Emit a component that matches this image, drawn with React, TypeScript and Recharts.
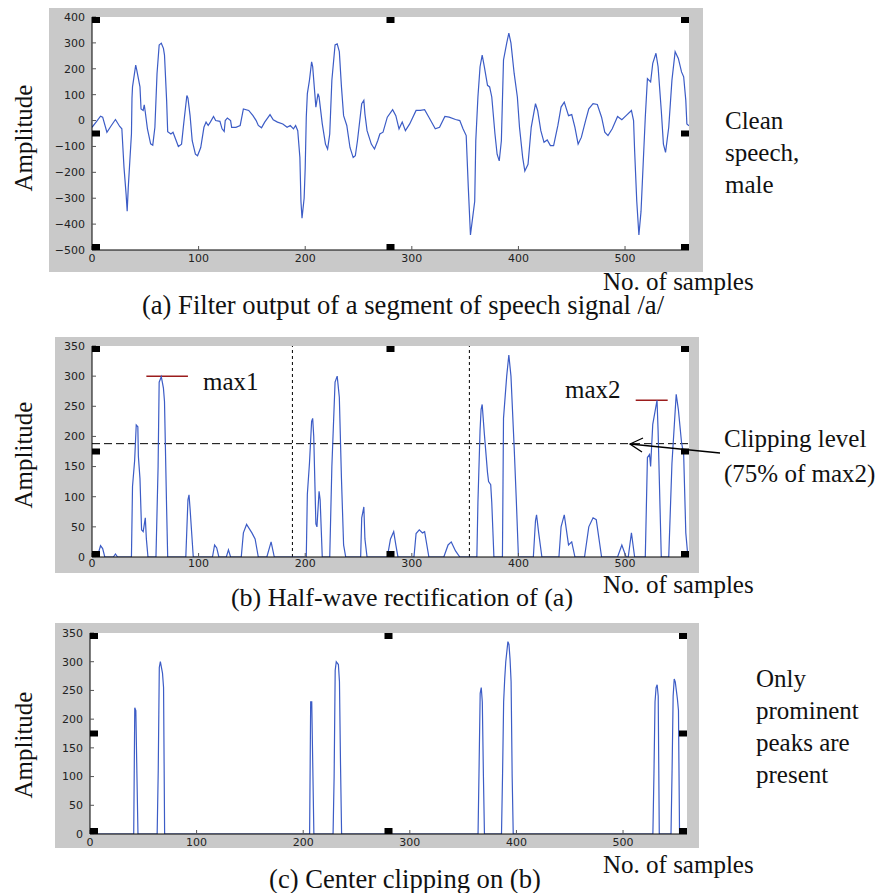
import React from 'react';
import { LineChart, Line, XAxis, YAxis, ReferenceLine, ReferenceDot, ReferenceArea } from 'recharts';

// ---------- data ----------
const xTicks = [0, 100, 200, 300, 400, 500];
const xDomain: [number, number] = [0, 560];
const yTicksA = [-500, -400, -300, -200, -100, 0, 100, 200, 300, 400];
const yTicksBC = [0, 50, 100, 150, 200, 250, 300, 350];

// (a) filter output: [sample, amplitude]
const filterOutput: [number, number][] = [
  [0,-26],[4,-5],[8,17],[10,13],[14,-45],[18,-20],[22,4],[26,-23],[28,-32],[30,-180],[32,-285],[33,-350],[34,-260],[35.5,-155],[37,-52],[37.5,85],[38,130],[41,214],[42,195],[45,130],[46,45],[48,39],[49,61],[50,32],[52,-32],[55,-90],[57,-95],[59,-26],[61,182],[63,292],[65,299],[67,279],[68,253],[70,78],[71,-43],[74,-52],[76,-45],[79,-78],[81,-100],[84,-91],[86,-13],[89,97],[90,87],[92,19],[94,-78],[97,-130],[99,-136],[102,-104],[105,-26],[107,-6],[109,-19],[111,-6],[114,16],[116,0],[120,-3],[122,-32],[124,-42],[125,0],[127,10],[130,0],[131,-26],[135,-26],[139,-19],[142,45],[147,39],[151,19],[154,0],[156,-19],[159,-28],[162,-6],[167,23],[170,3],[174,-6],[179,-13],[183,-26],[186,-19],[189,-32],[191,-19],[193,-39],[195,-143],[196,-312],[197,-377],[199,-299],[200,-182],[201,13],[202,104],[204,156],[206,227],[207,208],[209,104],[210,52],[212,104],[213,91],[216,-13],[219,-91],[221,-110],[223,-52],[225,156],[228,292],[230,296],[232,266],[234,130],[236,19],[239,-19],[242,-104],[245,-143],[247,-136],[249,-78],[253,65],[255,78],[256,26],[258,-39],[262,-91],[265,-110],[268,-78],[270,-52],[273,-45],[277,13],[282,42],[285,19],[288,-32],[291,-6],[294,-39],[298,-13],[304,39],[308,39],[312,42],[316,13],[322,-32],[326,-26],[331,16],[335,13],[341,4],[345,0],[348,-32],[351,-58],[353,-260],[355,-442],[357,-377],[359,-312],[360,-78],[362,91],[364,208],[366,253],[368,208],[371,136],[373,130],[375,91],[378,-52],[380,-130],[382,-156],[384,-78],[386,234],[389,299],[391,338],[393,299],[396,182],[399,91],[401,-26],[404,-143],[406,-195],[409,-169],[412,-26],[416,65],[418,39],[421,-39],[424,-84],[427,-75],[430,-97],[433,-97],[437,-19],[440,52],[443,71],[447,19],[450,23],[453,-26],[456,-91],[459,-65],[463,0],[466,45],[470,65],[474,62],[478,13],[481,-45],[484,-58],[488,-32],[493,16],[497,3],[501,19],[506,39],[508,0],[509,-117],[511,-312],[513,-442],[515,-351],[517,-169],[519,13],[521,162],[524,149],[526,221],[529,260],[531,208],[534,39],[536,-91],[538,-123],[541,-26],[544,156],[547,266],[550,240],[553,188],[555,169],[557,78],[558,-13],[560,-20],
];

// (b) half-wave rectified
const halfWave: [number, number][] = [
  [0,0],[5,0],[8,19],[10,14],[12,0],[20,0],[22,5],[24,0],[37,0],[38,117],[40,160],[41.5,219],[43,216],[43.5,167],[45,130],[46.5,45],[48,42],[50,65],[51,30],[52.5,0],[60,0],[62,150],[63,290],[65,299],[67,280],[68,258],[70,80],[71,0],[88,0],[90,95],[91,103],[92,80],[95,0],[113,0],[115,20],[117,15],[119,0],[126,0],[128,12],[130,0],[140,0],[142,40],[145,54],[150,40],[153,30],[156,0],[164,0],[168,25],[171,0],[201,0],[202,104],[204,156],[206,225],[207,230],[208,200],[210,55],[211,50],[213,109],[214,95],[216,0],[223,0],[225,150],[228,290],[230,300],[232,265],[234,130],[236,20],[238,0],[252,0],[253,65],[255,83],[256,30],[258,0],[277,0],[280,30],[283,42],[285,20],[287,0],[302,0],[304,39],[307,45],[310,40],[312,42],[316,0],[330,0],[334,20],[337,25],[341,10],[345,0],[361,0],[362,90],[364,210],[365,245],[366,253],[368,205],[371,140],[372,125],[374,120],[375,90],[377,0],[385,0],[386,230],[389,300],[391,335],[393,300],[396,182],[398,95],[400,0],[414,0],[416,60],[417,70],[419,40],[422,0],[438,0],[440,50],[443,70],[447,20],[450,25],[453,0],[462,0],[466,50],[470,65],[473,62],[478,0],[493,0],[497,20],[501,0],[503,0],[506,40],[509,0],[519,0],[521,165],[523,170],[524,150],[526,220],[530,260],[531,210],[534,0],[541,0],[544,155],[548,270],[550,245],[553,190],[555,170],[557,40],[559,0],[560,0],
];

// (c) center clipped
const centerClipped: [number, number][] = [
  [0,0],[41,0],[42,220],[43,215],[44,105],[45,0],[63,0],[64,110],[65,290],[66,300],[67,290],[68,280],[69,255],[70,0],[206,0],[207,230],[208,230],[209,115],[210,0],[228,0],[229,100],[230,285],[231,300],[233,295],[234,265],[235,120],[236,0],[364,0],[365,120],[366,245],[367,255],[368,230],[369,105],[370,0],[386,0],[387,105],[388,230],[389,270],[390,300],[392,335],[393,330],[394,305],[395,265],[396,100],[397,0],[528,0],[529,105],[530,230],[531,255],[532,260],[533,240],[534,0],[545,0],[546,110],[547,240],[548,270],[549,265],[550,250],[551,235],[552,215],[553,0],[560,0],
];

const clippingLevel = 188;
const max1Level = 300;
const max1Span = [51, 90];
const max2Level = 260;
const max2Span = [510, 540];
const segmentBounds = [188, 354];

// ---------- helpers ----------
const BLUE = '#3c5cc6';
const GRAY = '#c9c9c9';
const serif = '"Liberation Serif", "DejaVu Serif", "Times New Roman", Times, serif';
const tickFont = { fontSize: 11, fill: '#222', fontFamily: '"DejaVu Sans", sans-serif' };
const fmt = (v: number) => String(v).replace('-', '\u2212');
const EmptyTick = () => <g />;

type HAnchor = 'l' | 'c' | 'r';
type VAnchor = 't' | 'm' | 'b';
const handleShape = (h: HAnchor, v: VAnchor) => (p: any) => {
  const w = 8, hh = 6;
  const x = h === 'l' ? p.cx : h === 'r' ? p.cx - w : p.cx - w / 2;
  const y = v === 't' ? p.cy : v === 'b' ? p.cy - hh : p.cy - hh / 2;
  return <rect x={x} y={y} width={w} height={hh} fill="#000" />;
};

const handles = (ymin: number, ymax: number) => {
  const ymid = (ymin + ymax) / 2;
  const pts: [number, number, HAnchor, VAnchor][] = [
    [0, ymax, 'l', 't'], [280, ymax, 'c', 't'], [560, ymax, 'r', 't'],
    [0, ymid, 'l', 'm'], [560, ymid, 'r', 'm'],
    [0, ymin, 'l', 'b'], [280, ymin, 'c', 'b'], [560, ymin, 'r', 'b'],
  ];
  return pts.map(([x, y, h, v], i) => (
    <ReferenceDot key={'h' + i} x={x} y={y} r={0} ifOverflow="visible" shape={handleShape(h, v)} />
  ));
};

type PanelProps = {
  data: [number, number][];
  box: { left: number; top: number; width: number; height: number };
  margin: { top: number; right: number; left: number; bottom: number };
  yAxisWidth: number;
  xAxisHeight: number;
  xTickMargin: number;
  yDomain: [number, number];
  yTicks: number[];
  children?: React.ReactNode;
};

const Panel = ({ data, box, margin, yAxisWidth, xAxisHeight, xTickMargin, yDomain, yTicks, children }: PanelProps) => {
  const rows = data.map(([x, y]) => ({ x, y }));
  return (
    <div style={{ position: 'absolute', left: box.left, top: box.top, width: box.width, height: box.height, background: GRAY }}>
      <LineChart width={box.width} height={box.height} data={rows} margin={margin}>
        <XAxis dataKey="x" type="number" domain={xDomain} ticks={xTicks} allowDataOverflow interval={0}
          height={xAxisHeight} tickSize={-4} tickMargin={xTickMargin} axisLine={{ stroke: '#000' }} tickLine={{ stroke: '#555' }}
          tick={tickFont} />
        <XAxis xAxisId="top" orientation="top" dataKey="x" type="number" domain={xDomain} ticks={xTicks} allowDataOverflow interval={0}
          height={0} tickSize={-4} axisLine={{ stroke: '#000' }} tickLine={{ stroke: '#555' }} tick={EmptyTick} />
        <YAxis type="number" domain={yDomain} ticks={yTicks} allowDataOverflow interval={0} width={yAxisWidth}
          tickSize={-4} tickMargin={11} axisLine={{ stroke: '#000' }} tickLine={{ stroke: '#555' }}
          tick={tickFont} tickFormatter={fmt} />
        <YAxis yAxisId="right" orientation="right" type="number" domain={yDomain} ticks={yTicks} allowDataOverflow interval={0} width={0}
          tickSize={-4} axisLine={{ stroke: '#000' }} tickLine={{ stroke: '#555' }} tick={EmptyTick} />
        <ReferenceArea x1={0} x2={560} y1={yDomain[0]} y2={yDomain[1]} fill="#fff" fillOpacity={1} stroke="none" />
        {children}
        <Line type="linear" dataKey="y" stroke={BLUE} strokeWidth={1.2} dot={false} isAnimationActive={false} />
        {handles(yDomain[0], yDomain[1])}
      </LineChart>
    </div>
  );
};

const T = ({ x, y, size = 25, children, center = false }: { x: number; y: number; size?: number; children: React.ReactNode; center?: boolean }) => (
  <div style={{
    position: 'absolute', left: x, top: y - size * 0.84, fontFamily: serif, fontSize: size, lineHeight: 1,
    whiteSpace: 'nowrap', color: '#111', transform: center ? 'translateX(-50%)' : undefined,
  }}>{children}</div>
);

const VLabel = ({ cx, cy }: { cx: number; cy: number }) => (
  <div style={{
    position: 'absolute', left: cx, top: cy, fontFamily: serif, fontSize: 25, lineHeight: 1, whiteSpace: 'nowrap', color: '#111',
    transform: 'translate(-50%, -50%) rotate(-90deg)',
  }}>Amplitude</div>
);

export default function App() {
  return (
    <div style={{ position: 'absolute', left: 0, top: 0, width: 882, height: 893, background: '#fff', overflow: 'hidden' }}>
      <Panel data={filterOutput} box={{ left: 49, top: 8, width: 654, height: 264 }}
        margin={{ top: 9, right: 14, left: 3, bottom: 0 }} yAxisWidth={40} xAxisHeight={22} xTickMargin={8}
        yDomain={[-500, 400]} yTicks={yTicksA} />

      <Panel data={halfWave} box={{ left: 55, top: 337, width: 644, height: 236 }}
        margin={{ top: 9, right: 10, left: 3, bottom: 0 }} yAxisWidth={34} xAxisHeight={16} xTickMargin={6}
        yDomain={[0, 350]} yTicks={yTicksBC}>
        <ReferenceLine x={segmentBounds[0]} stroke="#000" strokeDasharray="3 3" strokeWidth={1} />
        <ReferenceLine x={segmentBounds[1]} stroke="#000" strokeDasharray="3 3" strokeWidth={1} />
        <ReferenceLine y={clippingLevel} stroke="#000" strokeDasharray="8 4" strokeWidth={1} />
        <ReferenceLine segment={[{ x: max1Span[0], y: max1Level }, { x: max1Span[1], y: max1Level }]} stroke="#9b1c1c" strokeWidth={1.5} />
        <ReferenceLine segment={[{ x: max2Span[0], y: max2Level }, { x: max2Span[1], y: max2Level }]} stroke="#9b1c1c" strokeWidth={1.5} />
      </Panel>

      <Panel data={centerClipped} box={{ left: 55, top: 623, width: 644, height: 225 }}
        margin={{ top: 10, right: 12, left: 3, bottom: 0 }} yAxisWidth={32} xAxisHeight={14} xTickMargin={8}
        yDomain={[0, 350]} yTicks={yTicksBC} />

      {/* arrow annotation */}
      <svg width={882} height={893} style={{ position: 'absolute', left: 0, top: 0, pointerEvents: 'none' }}>
        <line x1={720} y1={453} x2={630} y2={444} stroke="#000" strokeWidth={1.3} />
        <polyline points="643,438 630,444 642,452" fill="none" stroke="#000" strokeWidth={1.3} />
      </svg>

      <VLabel cx={23} cy={138} />
      <VLabel cx={23} cy={455} />
      <VLabel cx={23} cy={745} />

      <T x={725} y={129}>Clean</T>
      <T x={725} y={161}>speech,</T>
      <T x={725} y={193}>male</T>

      <T x={603} y={290}>No. of samples</T>
      <T x={403} y={314} size={26.6} center>(a) Filter output of a segment of speech signal /a/</T>

      <T x={203} y={390}>max1</T>
      <T x={565} y={398}>max2</T>
      <T x={724} y={447}>Clipping level</T>
      <T x={724} y={482}>(75% of max2)</T>

      <T x={603} y={593}>No. of samples</T>
      <T x={402} y={607} size={26} center>(b) Half-wave rectification of (a)</T>

      <T x={756} y={687}>Only</T>
      <T x={756} y={719}>prominent</T>
      <T x={756} y={751}>peaks are</T>
      <T x={756} y={783}>present</T>

      <T x={603} y={873}>No. of samples</T>
      <T x={405} y={888} size={26.6} center>(c) Center clipping on (b)</T>
    </div>
  );
}
